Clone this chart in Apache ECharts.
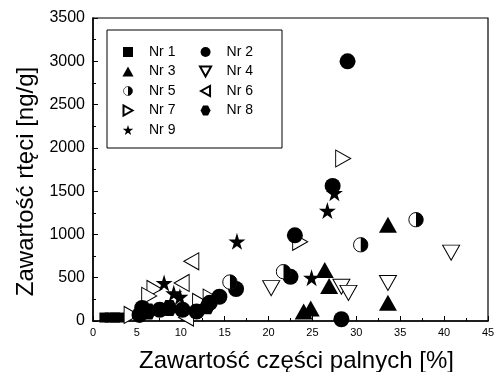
<!DOCTYPE html>
<html><head><meta charset="utf-8">
<script src="https://cdn.jsdelivr.net/npm/echarts@6/dist/echarts.min.js"></script>
<style>html,body{margin:0;padding:0;background:#fff}#c{width:496px;height:372px}</style>
</head><body><div id="c"></div>
<script>
// ---- data (x: Zawartość części palnych [%], y: Zawartość rtęci [ng/g]) ----
const seriesNames = ['Nr 1','Nr 2','Nr 3','Nr 4','Nr 5','Nr 6','Nr 7','Nr 8','Nr 9'];
const nr1 = [[1.3,40],[1.9,40],[2.5,40],[3.0,40]];
const nr2 = [[29.0,3000],[27.3,1560],[23.0,990],[22.5,510],[16.3,370],[28.3,20],[14.4,280],[11.8,110],[10.2,130],[7.6,130],[5.3,70],[5.6,150],[13.3,210]];
const nr3 = [[33.6,1112],[26.4,590],[26.9,405],[33.6,210],[24.0,110],[24.8,145]];
const nr4 = [[40.8,790],[20.3,380],[28.3,395],[29.1,325],[33.6,440]];
const nr5 = [[36.8,1170],[30.5,880],[21.7,570],[15.6,450]];
const nr6 = [[11.2,690],[10.1,440],[10.6,40]];
const nr7 = [[28.5,1877],[23.6,915],[4.4,70],[7.0,370],[6.4,290],[12.2,220],[13.4,270]];
const nr8 = [[13.0,170],[8.7,150],[6.3,110]];
const nr9 = [[16.4,920],[27.5,1480],[26.7,1275],[24.9,500],[8.1,440],[9.2,320],[9.9,280]];
const xMin = 0, xMax = 45, xStep = 5;
const yMin = 0, yMax = 3500, yStep = 500;

const halfSvg = "<svg xmlns='http://www.w3.org/2000/svg' width='40' height='40' viewBox='0 0 40 40'><circle cx='20' cy='20' r='18' fill='white' stroke='black' stroke-width='2.4'/><path d='M20,2 A18,18 0 0,1 20,38 Z' fill='black'/></svg>";
const halfIcon = 'image://data:image/svg+xml;charset=utf-8,' + encodeURIComponent(halfSvg);
const sym = {
  square: 'path://M0,0L10,0L10,10L0,10Z',
  circle: 'circle',
  up: 'path://M5,0L10,9L0,9Z',
  down: 'path://M0,0L10,0L5,9Z',
  left: 'path://M10,0L10,10L1,5Z',
  right: 'path://M0,0L0,10L9,5Z',
  hex: 'path://M25,0L75,0L100,50L75,100L25,100L0,50Z',
  star: 'path://M50,0L61,35L98,35L68,57L79,91L50,70L21,91L32,57L2,35L39,35Z'
};
const filled = {color:'#000', opacity:1};
const open = {color:'#fff', borderColor:'#000', borderWidth:1, opacity:1};
function mk(name, data, symbol, size, style){
  return {type:'scatter', name, data, symbol, symbolSize:size, symbolKeepAspect:false, itemStyle:style, emphasis:{disabled:true}};
}
const series = [
  mk('Nr 1', nr1, sym.square, 10, filled),
  mk('Nr 4', nr4, sym.down, [17,15], open),
  mk('Nr 6', nr6, sym.left, [15,17], open),
  mk('Nr 7', nr7, sym.right, [15,17], open),
  mk('Nr 2', nr2, sym.circle, 16, filled),
  mk('Nr 8', nr8, sym.hex, 16, filled),
  mk('Nr 3', nr3, sym.up, [18,16], filled),
  mk('Nr 5', nr5, halfIcon, 16, {opacity:1}),
  mk('Nr 9', nr9, sym.star, 17, filled)
];
const font = 'Liberation Sans, Arial, Helvetica, sans-serif';
const legendCommon = {
  orient:'vertical', itemWidth:32, itemHeight:10, itemGap:5.5, selectedMode:false,
  textStyle:{fontSize:14, color:'#000', fontFamily:font}, padding:0
};
const chart = echarts.init(document.getElementById('c'));
chart.setOption({
  animation:false,
  backgroundColor:'#fff',
  grid:{left:93, right:8, top:18, bottom:51, outerBoundsMode:'none', containLabel:false, show:true, borderColor:'#000', borderWidth:1.2},
  graphic:[{type:'rect', shape:{x:107, y:30, width:175, height:118}, style:{fill:'#fff', stroke:'#000', lineWidth:1}, z:0}],
  legend:[
    Object.assign({left:112, top:45, data:[{name:'Nr 1', icon:sym.square},'Nr 3',{name:'Nr 5', icon:halfIcon},'Nr 7','Nr 9']}, legendCommon),
    Object.assign({left:199, top:45, data:['Nr 2','Nr 4','Nr 6','Nr 8']}, legendCommon)
  ],
  xAxis:{
    type:'value', min:xMin, max:xMax, interval:xStep,
    name:'Zawartość części palnych [%]', nameLocation:'middle', nameGap:28,
    nameTextStyle:{fontSize:24, color:'#000', fontFamily:font, padding:[0,0,0,12]},
    axisLine:{lineStyle:{color:'#000', width:1.5}},
    axisTick:{inside:true, length:5, lineStyle:{color:'#000'}},
    minorTick:{show:true, splitNumber:2, length:3, lineStyle:{color:'#000'}},
    axisLabel:{fontSize:11, color:'#000', margin:6, fontFamily:font},
    splitLine:{show:false}
  },
  yAxis:{
    type:'value', min:yMin, max:yMax, interval:yStep,
    name:'Zawartość rtęci [ng/g]', nameLocation:'middle', nameGap:51,
    nameTextStyle:{fontSize:24, color:'#000', fontFamily:font, padding:[0,24,0,0]},
    axisLine:{lineStyle:{color:'#000', width:1.5}},
    axisTick:{inside:true, length:5, lineStyle:{color:'#000'}},
    minorTick:{show:true, splitNumber:2, length:3, lineStyle:{color:'#000'}},
    axisLabel:{fontSize:16, color:'#000', margin:8, fontFamily:font, formatter:v => String(v)},
    splitLine:{show:false}
  },
  series
});
</script></body></html>
